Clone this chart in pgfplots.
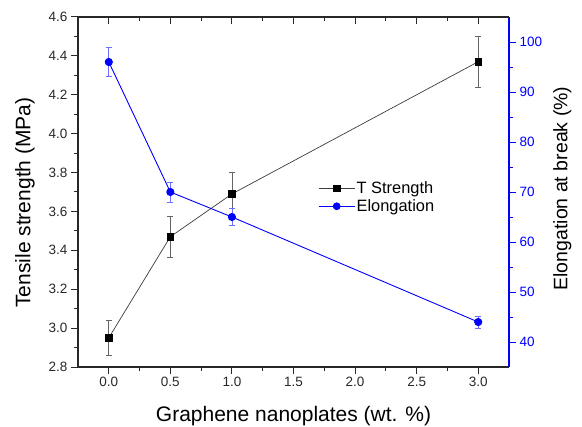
\documentclass[border=0pt]{standalone}
\usepackage{pgfplots}
\pgfplotsset{compat=1.18}
\usepackage{fontspec}
\setmainfont{Liberation Sans}
\definecolor{tsline}{RGB}{60,60,60}
\definecolor{tserr}{RGB}{100,100,100}
\definecolor{elblue}{RGB}{0,0,255}
\definecolor{elerr}{RGB}{110,110,255}
\definecolor{axgray}{RGB}{40,40,40}
\begin{document}
\begin{tikzpicture}
\useasboundingbox (-78bp,-60bp) rectangle (504bp,367bp);
\pgfplotsset{
  common/.style={
    scale only axis, width=431bp, height=350bp,
    xmin=-0.25, xmax=3.25,
    /pgf/number format/assume math mode=true,
    tick label style={font=\fontsize{13.5bp}{16bp}\selectfont, text=axgray},
    major tick length=7bp, minor tick length=4bp,
    tick align=outside,
    every tick/.style={line width=1bp},
    axis line style={line width=1.2bp, axgray},
    tick style={axgray},
    xtick={0,0.5,1,1.5,2,2.5,3}, minor x tick num=1,
    xticklabel style={/pgf/number format/fixed, /pgf/number format/fixed zerofill, /pgf/number format/precision=1},
  }
}
% left axis + bottom
\begin{axis}[common,
  axis x line*=bottom, axis y line*=left,
  ymin=2.8, ymax=4.6, ytick={2.8,3.0,3.2,3.4,3.6,3.8,4.0,4.2,4.4,4.6}, minor y tick num=1,
  yticklabel style={/pgf/number format/fixed, /pgf/number format/fixed zerofill, /pgf/number format/precision=1},
  xlabel={Graphene nanoplates (wt. \%)},
  ylabel={Tensile strength (MPa)},
  xlabel style={font=\fontsize{21bp}{25bp}\selectfont, at={(axis description cs:0.5,-0.111)}, anchor=north, inner sep=0pt},
  ylabel style={font=\fontsize{21bp}{25bp}\selectfont, at={(axis description cs:-0.1462,0.47)}, anchor=north, inner sep=0pt},
  legend style={at={(axis description cs:0.55,0.54)}, anchor=north west, draw=none, fill=none,
    font=\fontsize{16.4bp}{19bp}\selectfont, row sep=1.5bp, nodes={inner sep=1.5bp}},
  legend cell align=left,
  legend image code/.code={\draw[mark repeat=2,mark phase=2] plot coordinates {(0bp,0bp) (18bp,0bp) (36bp,0bp)};},
]
\addplot[tsline, line width=0.7bp, mark=square*, mark size=3.3bp, mark options={black, solid},
  error bars/.cd, y dir=both, y explicit,
  error bar style={tserr, line width=0.8bp},
  error mark options={rotate=90, mark size=3bp, tserr, line width=0.8bp}]
  coordinates {
  (0,2.95) +- (0,0.09)
  (0.5,3.47) +- (0,0.105)
  (1,3.69) +- (0,0.11)
  (3,4.37) +- (0,0.13)
  };
\addlegendentry{T Strength}
\addlegendimage{elblue, line width=0.9bp, mark=*, mark size=3.4bp, mark options={elblue, solid}}
\addlegendentry{Elongation}
\end{axis}
% right axis
\begin{axis}[common,
  axis y line*=right, axis x line=none,
  ymin=35, ymax=105, ytick={40,50,60,70,80,90,100}, minor y tick num=1,
  y axis line style={elblue, line width=1.2bp},
  y tick style={elblue}, yticklabel style={text=elblue},
  ylabel={Elongation at break (\%)},
  ylabel style={font=\fontsize{19.5bp}{23bp}\selectfont, at={(axis description cs:1.102,0.51)}, anchor=north, inner sep=0pt, text=black},
]
\addplot[elblue, line width=0.9bp, mark=*, mark size=3.6bp, mark options={elblue, solid},
  error bars/.cd, y dir=both, y explicit,
  error bar style={elerr, line width=0.8bp},
  error mark options={rotate=90, mark size=3bp, elerr, line width=0.8bp}]
  coordinates {
  (0,96) +- (0,2.9)
  (0.5,70) +- (0,2)
  (1,65) +- (0,1.7)
  (3,44) +- (0,1.2)
  };
\end{axis}
% top axis line with inward ticks
\begin{axis}[common,
  axis x line*=top, axis y line=none, ymin=0, ymax=1,
  tick align=inside, xticklabels={},
]
\end{axis}
\end{tikzpicture}
\end{document}
